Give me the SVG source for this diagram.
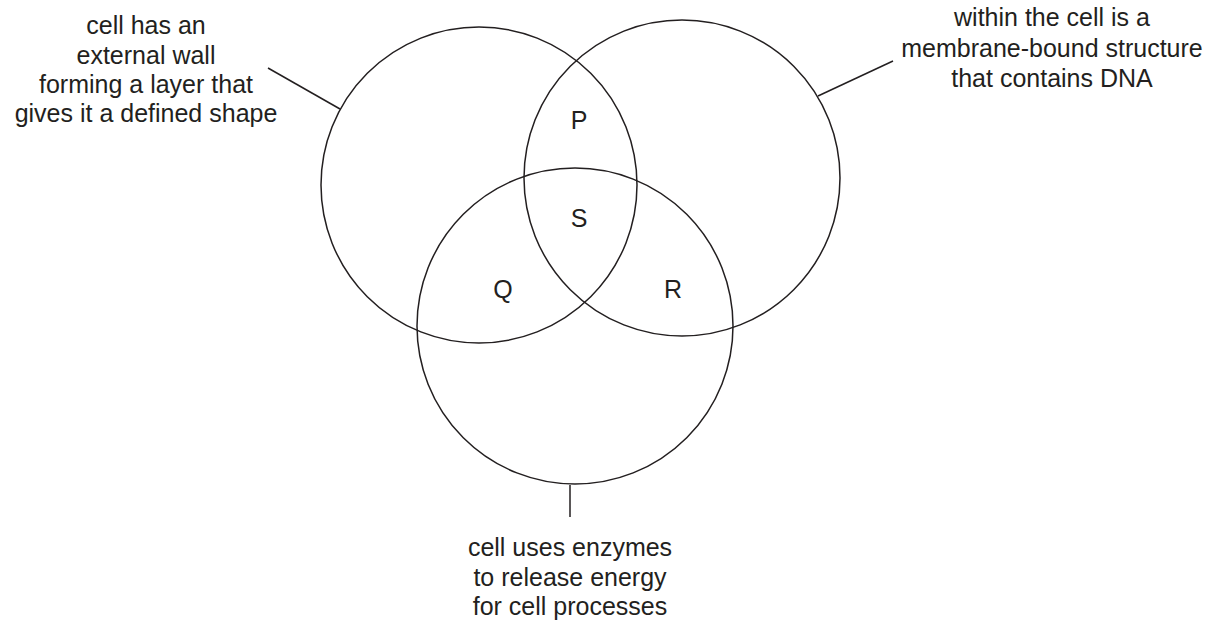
<svg xmlns="http://www.w3.org/2000/svg" width="1211" height="625" viewBox="0 0 1211 625">
<style>
circle{fill:none;stroke:#231f20;stroke-width:1.5}
line{stroke:#231f20;stroke-width:1.5}
text{font-family:"Liberation Sans",Arial,sans-serif;font-size:25px;fill:#231f20;text-anchor:middle}
</style>
<rect width="1211" height="625" fill="#fff"/>
<g id="set-wall"><circle cx="479" cy="185" r="158"/>
<text x="146" y="34">cell has an</text><text x="146" y="64">external wall</text><text x="146" y="93">forming a layer that</text><text x="146" y="122">gives it a defined shape</text></g>
<g id="set-nucleus"><circle cx="682" cy="178" r="158"/>
<text x="1052" y="26">within the cell is a</text><text x="1052" y="57">membrane-bound structure</text><text x="1052" y="87">that contains DNA</text></g>
<g id="set-enzymes"><circle cx="575" cy="326" r="158"/>
<text x="570" y="556">cell uses enzymes</text><text x="570" y="586">to release energy</text><text x="570" y="615">for cell processes</text></g>
<g id="regions">
<text x="579" y="129">P</text><text x="579" y="227">S</text><text x="503" y="298">Q</text><text x="673" y="298">R</text></g>
<g id="connectors">
<line x1="268" y1="68" x2="340" y2="109"/>
<line x1="818" y1="96" x2="893" y2="61"/>
<line x1="570" y1="485" x2="570" y2="517"/>
</g>
</svg>
